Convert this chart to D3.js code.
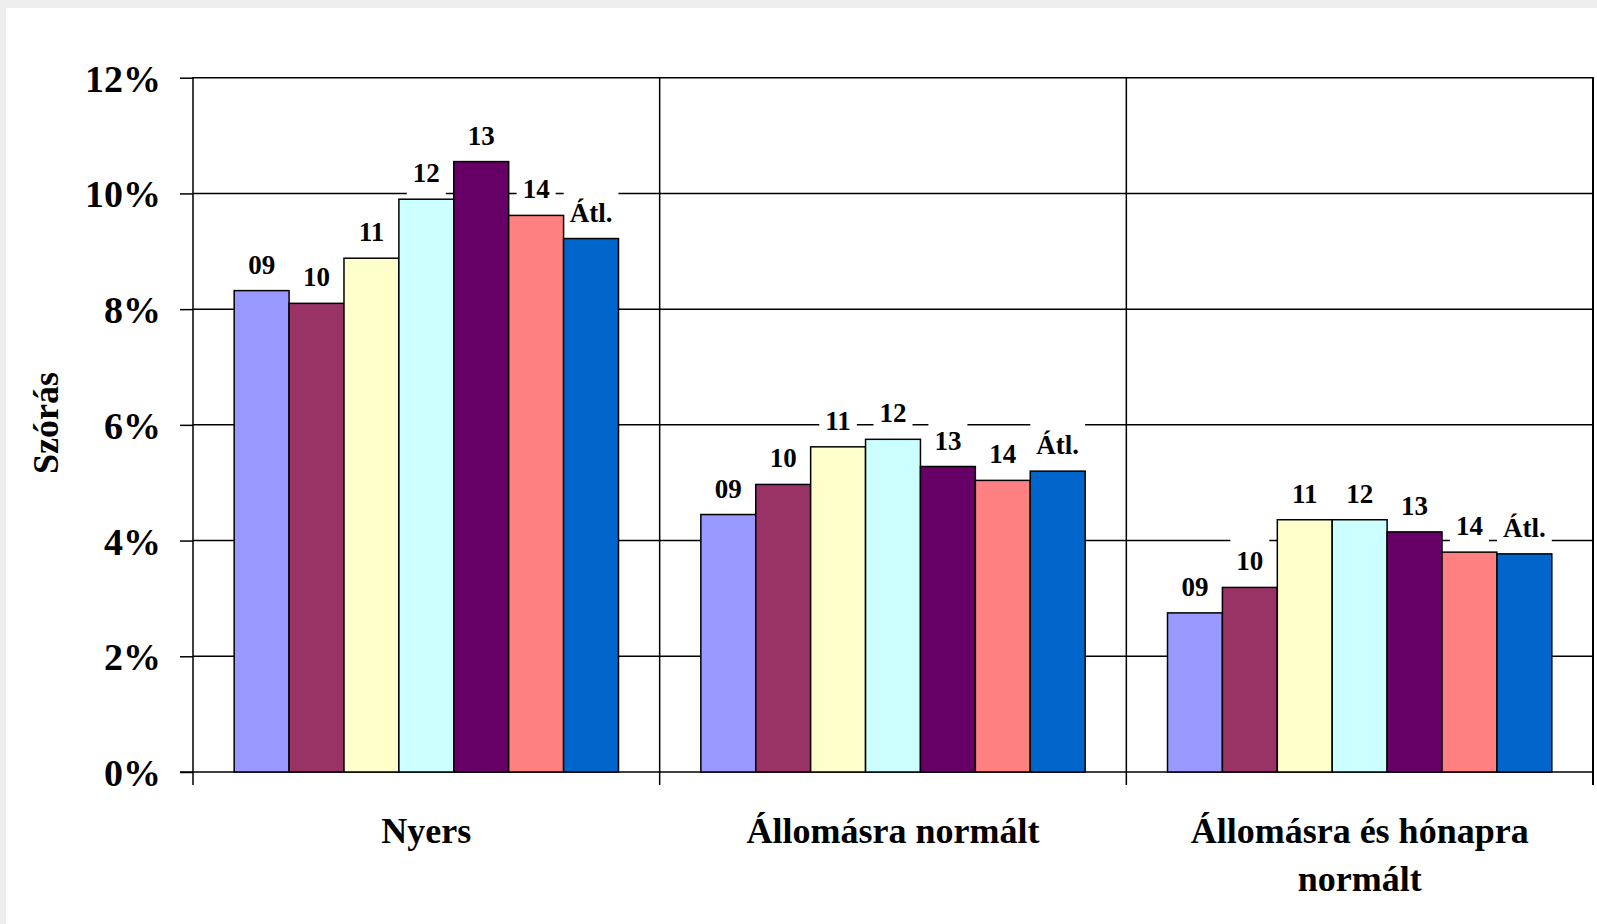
<!DOCTYPE html>
<html>
<head>
<meta charset="utf-8">
<script src="https://cdn.jsdelivr.net/npm/d3@7"></script>
<style>
  html, body { margin: 0; padding: 0; background: #eeeeee; }
  svg { display: block; }
  text { font-family: "Liberation Serif", "Times New Roman", serif; font-weight: bold; fill: #000; }
</style>
</head>
<body>
<svg id="chart" width="1597" height="924"></svg>
<script>
// Standard deviation of the series, by normalisation method and year
const categories = [["Nyers"], ["Állomásra normált"], ["Állomásra és hónapra", "normált"]];
const seriesNames = ["09", "10", "11", "12", "13", "14", "Átl."];
const seriesColors = ["#9999FF", "#993366", "#FFFFCC", "#CCFFFF", "#660066", "#FF8080", "#0066CC"];
const valuesNyers = [0.0832, 0.0810, 0.0888, 0.0990, 0.1055, 0.0962, 0.0922];
const valuesAllomas = [0.0445, 0.0497, 0.0562, 0.0575, 0.0528, 0.0504, 0.0520];
const valuesAllomasHonap = [0.0275, 0.0319, 0.0436, 0.0436, 0.0415, 0.0380, 0.0377];
const yTicks = [0, 0.02, 0.04, 0.06, 0.08, 0.10, 0.12];
const yTitle = "Szórás";

const groups = [valuesNyers, valuesAllomas, valuesAllomasHonap];
const catKeys = categories.map(c => c.join(" "));

const svg = d3.select("#chart");
const W = 1597, H = 924;
const plot = { left: 193, right: 1593, top: 77.7, bottom: 772 };

// page frame
svg.append("rect").attr("width", W).attr("height", H).attr("fill", "#eeeeee");
svg.append("rect").attr("x", 6).attr("y", 8).attr("width", W - 6).attr("height", H - 8).attr("fill", "#ffffff");

const y = d3.scaleLinear().domain([0, 0.12]).range([plot.bottom, plot.top]);
const x0 = d3.scaleBand().domain(catKeys).range([plot.left, plot.right]).padding(0);
const x1 = d3.scaleBand().domain(seriesNames).range([0, x0.bandwidth()])
  .paddingInner(0).paddingOuter(0.75);

// horizontal gridlines
svg.append("g").selectAll("line").data(yTicks.filter(t => t > 0)).join("line")
  .attr("x1", plot.left).attr("x2", plot.right)
  .attr("y1", d => y(d)).attr("y2", d => y(d))
  .attr("stroke", "#000").attr("stroke-width", 1.5);

// y axis with outward ticks
const yAxis = d3.axisLeft(y).tickValues(yTicks).tickSize(13).tickFormat("");
const gy = svg.append("g").attr("transform", `translate(${plot.left},0)`).call(yAxis);
gy.select(".domain").remove();
gy.selectAll(".tick line").attr("stroke", "#000").attr("stroke-width", 1.5);

svg.append("g").selectAll("text").data(yTicks).join("text")
  .attr("x", 161).attr("y", d => y(d) + 14)
  .attr("text-anchor", "end").attr("font-size", 38)
  .text(d => d3.format(".0%")(d));

// vertical axis line, category separators and right border
const sepX = [plot.left].concat(catKeys.map(k => x0(k) + x0.bandwidth()));
svg.append("g").selectAll("line").data(sepX).join("line")
  .attr("x1", d => d).attr("x2", d => d)
  .attr("y1", plot.top - 0.75).attr("y2", plot.bottom + 13)
  .attr("stroke", "#000").attr("stroke-width", (d, i) => i === sepX.length - 1 ? 2 : 1.5);

// baseline
svg.append("line").attr("x1", plot.left - 13).attr("x2", plot.right)
  .attr("y1", y(0)).attr("y2", y(0)).attr("stroke", "#000").attr("stroke-width", 1.5);

// value labels: white boxes first (they break the gridlines), then bars, then text
const labelData = [];
groups.forEach((vals, gi) => vals.forEach((v, si) => labelData.push({
  cat: catKeys[gi], name: seriesNames[si], color: seriesColors[si], value: v
})));

const labelLayer = svg.append("g");
const barLayer = svg.append("g");
const textLayer = svg.append("g");

barLayer.selectAll("rect").data(labelData).join("rect")
  .attr("x", d => x0(d.cat) + x1(d.name))
  .attr("width", x1.bandwidth())
  .attr("y", d => y(d.value))
  .attr("height", d => y(0) - y(d.value))
  .attr("fill", d => d.color)
  .attr("stroke", "#000").attr("stroke-width", 1.5);

const labels = textLayer.selectAll("text").data(labelData).join("text")
  .attr("x", d => x0(d.cat) + x1(d.name) + x1.bandwidth() / 2)
  .attr("y", d => y(d.value) - 17)
  .attr("text-anchor", "middle").attr("font-size", 27)
  .text(d => d.name);

labels.each(function (d) {
  const bb = this.getBBox();
  labelLayer.append("rect")
    .attr("x", bb.x - 6).attr("width", bb.width + 12)
    .attr("y", y(d.value) - 17 - 33).attr("height", 46)
    .attr("fill", "#ffffff");
});

// category labels
const catG = svg.append("g");
categories.forEach((lines, i) => {
  const t = catG.append("text")
    .attr("x", x0(catKeys[i]) + x0.bandwidth() / 2)
    .attr("y", 843)
    .attr("text-anchor", "middle").attr("font-size", 36);
  lines.forEach((ln, j) => t.append("tspan")
    .attr("x", x0(catKeys[i]) + x0.bandwidth() / 2)
    .attr("dy", j === 0 ? 0 : 48).text(ln));
});

// y axis title
svg.append("text")
  .attr("transform", "translate(58,423) rotate(-90)")
  .attr("text-anchor", "middle").attr("font-size", 36)
  .text(yTitle);
</script>
</body>
</html>
